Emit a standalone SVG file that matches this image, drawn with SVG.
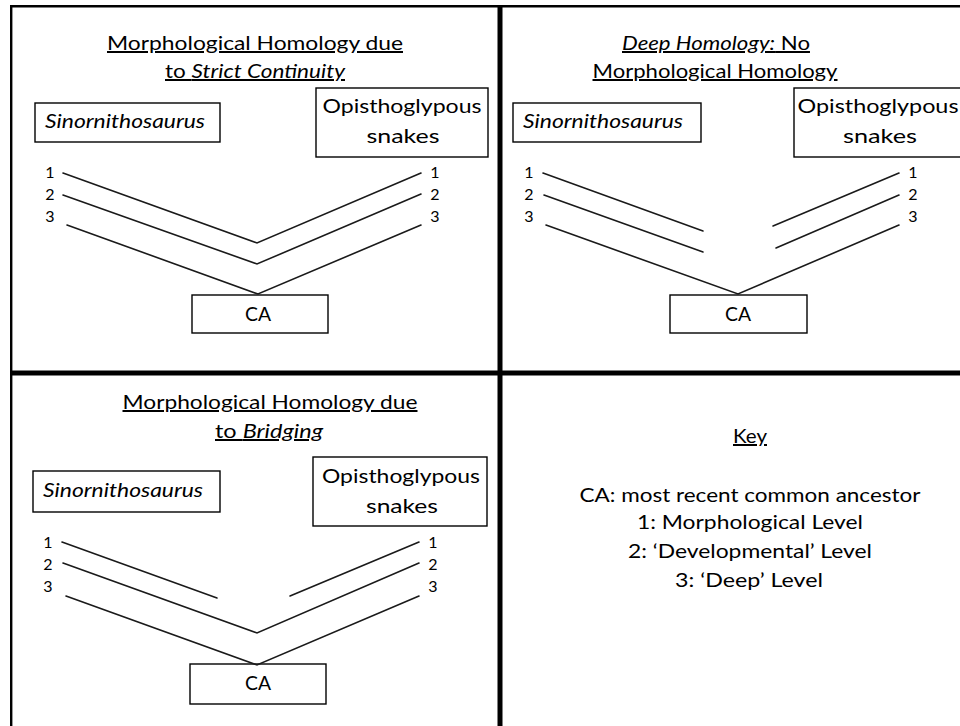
<svg xmlns="http://www.w3.org/2000/svg" width="960" height="726" viewBox="0 0 960 726">
<style>
text{font-family:Lato,"Open Sans","Liberation Sans",sans-serif;fill:#000;font-size:20px}
.t{text-anchor:middle;text-decoration:underline}
.c{text-anchor:middle}
.i{font-style:italic}
.n{font-size:16px;text-anchor:middle}
.box{fill:#fff;stroke:#000;stroke-width:1.4}
.ln{stroke:#1a1a1a;stroke-width:1.6;fill:none;stroke-linecap:round}
.frame{stroke:#000;fill:none}
</style>
<rect x="0" y="0" width="960" height="726" fill="#fff"/>
<g id="frame">
<line class="frame" x1="10" y1="6.2" x2="960" y2="6.2" stroke-width="2.4"/>
<line class="frame" x1="11.2" y1="5" x2="11.2" y2="726" stroke-width="2.4"/>
<line class="frame" x1="500" y1="5" x2="500" y2="726" stroke-width="5"/>
<line class="frame" x1="10" y1="373" x2="960" y2="373" stroke-width="5"/>
</g>

<!-- Top-left panel -->
<g id="title-tl">
<text class="t" x="255" y="50" textLength="296" lengthAdjust="spacingAndGlyphs">Morphological Homology due</text>
<text class="t" x="255" y="78" textLength="180" lengthAdjust="spacingAndGlyphs">to <tspan class="i">Strict Continuity</tspan></text>
</g>
<g id="sino-tl"><rect class="box" x="35" y="103" width="185" height="39"/><text class="i" x="45" y="128" textLength="160" lengthAdjust="spacingAndGlyphs">Sinornithosaurus</text></g>
<g id="snake-tl"><rect class="box" x="316" y="88" width="172" height="69"/><text class="c" x="402" y="113" textLength="159" lengthAdjust="spacingAndGlyphs">Opisthoglypous</text><text class="c" x="403" y="143" textLength="73" lengthAdjust="spacingAndGlyphs">snakes</text></g>
<g id="ca-tl"><rect class="box" x="192" y="295" width="136" height="38"/><text class="c" x="258" y="321" textLength="26" lengthAdjust="spacingAndGlyphs">CA</text></g>
<g id="nums-tl">
<text class="n" x="50" y="178">1</text><text class="n" x="50" y="200">2</text><text class="n" x="50" y="222">3</text>
<text class="n" x="435" y="178">1</text><text class="n" x="435" y="200">2</text><text class="n" x="435" y="222">3</text>
</g>

<!-- Top-right panel -->
<g id="title-tr">
<text class="t" x="716" y="50" textLength="188" lengthAdjust="spacingAndGlyphs"><tspan class="i">Deep Homology:</tspan> No</text>
<text class="t" x="715" y="78" textLength="245" lengthAdjust="spacingAndGlyphs">Morphological Homology</text>
</g>
<g id="sino-tr"><rect class="box" x="513" y="103" width="188" height="39"/><text class="i" x="523" y="128" textLength="160" lengthAdjust="spacingAndGlyphs">Sinornithosaurus</text></g>
<g id="snake-tr"><rect class="box" x="794" y="88" width="172" height="69"/><text class="c" x="878" y="113" textLength="161" lengthAdjust="spacingAndGlyphs">Opisthoglypous</text><text class="c" x="880" y="143" textLength="74" lengthAdjust="spacingAndGlyphs">snakes</text></g>
<g id="ca-tr"><rect class="box" x="670" y="295" width="137" height="38"/><text class="c" x="738" y="321" textLength="26" lengthAdjust="spacingAndGlyphs">CA</text></g>
<g id="nums-tr">
<text class="n" x="529" y="178">1</text><text class="n" x="529" y="200">2</text><text class="n" x="529" y="222">3</text>
<text class="n" x="913" y="178">1</text><text class="n" x="913" y="200">2</text><text class="n" x="913" y="222">3</text>
</g>

<!-- Bottom-left panel -->
<g id="title-bl">
<text class="t" x="270" y="409" textLength="295" lengthAdjust="spacingAndGlyphs">Morphological Homology due</text>
<text class="t" x="269" y="438" textLength="108" lengthAdjust="spacingAndGlyphs">to <tspan class="i">Bridging</tspan></text>
</g>
<g id="sino-bl"><rect class="box" x="33" y="471" width="187" height="41"/><text class="i" x="43" y="497" textLength="160" lengthAdjust="spacingAndGlyphs">Sinornithosaurus</text></g>
<g id="snake-bl"><rect class="box" x="313" y="457" width="174" height="69"/><text class="c" x="401" y="483" textLength="158" lengthAdjust="spacingAndGlyphs">Opisthoglypous</text><text class="c" x="402" y="513" textLength="72" lengthAdjust="spacingAndGlyphs">snakes</text></g>
<g id="ca-bl"><rect class="box" x="190" y="664" width="136" height="40"/><text class="c" x="258" y="690" textLength="26" lengthAdjust="spacingAndGlyphs">CA</text></g>
<g id="nums-bl">
<text class="n" x="48" y="548">1</text><text class="n" x="48" y="570">2</text><text class="n" x="48" y="592">3</text>
<text class="n" x="433" y="548">1</text><text class="n" x="433" y="570">2</text><text class="n" x="433" y="592">3</text>
</g>

<!-- Key panel -->
<g id="key">
<text class="t" x="750" y="443" textLength="34" lengthAdjust="spacingAndGlyphs">Key</text>
<text class="c" x="750" y="502" textLength="341" lengthAdjust="spacingAndGlyphs">CA: most recent common ancestor</text>
<text class="c" x="750" y="529" textLength="226" lengthAdjust="spacingAndGlyphs">1: Morphological Level</text>
<text class="c" x="750" y="558" textLength="244" lengthAdjust="spacingAndGlyphs">2: ‘Developmental’ Level</text>
<text class="c" x="749" y="587" textLength="148" lengthAdjust="spacingAndGlyphs">3: ‘Deep’ Level</text>
</g>

<g id="connectors">
<!-- top-left -->
<polyline class="ln" points="63,173 257,243 421,173"/>
<polyline class="ln" points="63,195 257,264 421,194"/>
<polyline class="ln" points="67,225 258,294 421,225"/>
<!-- top-right -->
<line class="ln" x1="543" y1="173" x2="703" y2="231"/>
<line class="ln" x1="544" y1="195" x2="703" y2="252"/>
<line class="ln" x1="773" y1="226" x2="899" y2="173"/>
<line class="ln" x1="776" y1="248" x2="899" y2="195"/>
<polyline class="ln" points="546,225 738,294 899,225"/>
<!-- bottom-left -->
<line class="ln" x1="62" y1="542" x2="217" y2="598"/>
<line class="ln" x1="290" y1="596" x2="419" y2="542"/>
<polyline class="ln" points="63,563 257,633 419,563"/>
<polyline class="ln" points="66,596 257,665 419,596"/>
</g>
</svg>
